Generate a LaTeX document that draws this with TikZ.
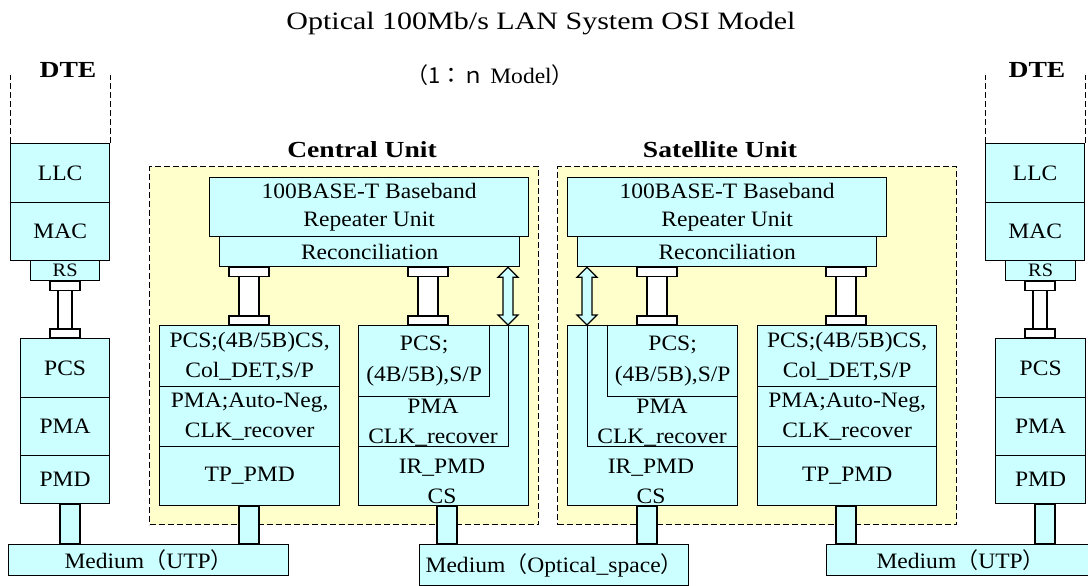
\documentclass[tikz,border=0pt]{standalone}
\usepackage{fontspec}
\setmainfont{Liberation Serif}[FakeStretch=1.07]
\newfontfamily\widefont{Liberation Serif}[FakeStretch=1.2]
\newfontfamily\cjk{Noto Sans CJK JP}
\usetikzlibrary{calc}

\definecolor{layercyan}{HTML}{CCFFFF}
\definecolor{unityellow}{HTML}{FFFFCC}

\begin{document}
\begin{tikzpicture}[
  x=1pt, y=-1pt,
  layer/.style={draw, fill=layercyan, line width=1.3pt, inner sep=0pt, align=center, anchor=north west, font=\fontsize{22}{28}\selectfont},
  unit/.style={draw, fill=unityellow, line width=1pt, dash pattern=on 6pt off 3pt, inner sep=0pt, anchor=north west},
  pillar/.style={draw, fill=white, line width=1.3pt},
  feed/.style={draw, fill=layercyan, line width=1.3pt},
  heading/.style={font=\widefont\bfseries\fontsize{23}{26}\selectfont},
  txt/.style={align=center, inner sep=0pt, font=\fontsize{22}{30}\selectfont},
  rim/.style={line width=1pt, dash pattern=on 6pt off 3pt},
  font=\fontsize{22}{28}\selectfont
]
\useasboundingbox (0,0) rectangle (1088,586);

% Titles
\node (title) at (541,24) {\widefont\fontsize{25}{28}\selectfont Optical 100Mb/s LAN System OSI Model};
\node (model) at (490,75) {{\cjk （1：ｎ} Model{\cjk ）}};

% Units
\node[unit, minimum width=389, minimum height=358] (cu) at (149,166) {};
\node[unit, minimum width=399, minimum height=358] (su) at (557,166) {};
\node[heading] (cuName) at (362,150) {Central Unit};
\node[heading] (suName) at (720,150) {Satellite Unit};

% Left DTE
\node[heading] (dteL) at (68,70) {DTE};
\node[layer, minimum width=99, minimum height=59] (llcL) at (10,143) {LLC};
\node[layer, minimum width=99, minimum height=58] (macL) at (10,202) {MAC};
\node[layer, minimum width=69, minimum height=20, font=\fontsize{19}{19}\selectfont] (rsL) at (30,260) {RS};
\node[layer, minimum width=89, minimum height=59] (pcsL) at (20,338) {PCS};
\node[layer, minimum width=89, minimum height=58] (pmaL) at (20,397) {PMA};
\node[layer, minimum width=89, minimum height=48] (pmdL) at (20,455) {PMD};
\draw[rim] (llcL.north west) -- ++(0,-68);
\draw[rim] (llcL.north east) -- ++(0,-68);

% Central unit
\node[layer, minimum width=319, minimum height=59] (repC) at (209,177) {100BASE-T Baseband\\Repeater Unit};
\node[layer, minimum width=300, minimum height=30] (recC) at (219,236) {Reconciliation};
\node[layer, minimum width=180, minimum height=61, font=\fontsize{22}{30}\selectfont] (pcsCl) at (159,325) {PCS;(4B/5B)CS,\\Col\_DET,S/P};
\node[layer, minimum width=180, minimum height=60, font=\fontsize{22}{30}\selectfont] (pmaCl) at (159,386) {PMA;Auto-Neg,\\CLK\_recover};
\node[layer, minimum width=180, minimum height=59] (tpC) at (159,446) {TP\_PMD};
\node[layer, minimum width=170, minimum height=180] (irC) at (358,325) {};
\node[layer, minimum width=150, minimum height=121] (pmaCr) at (358,325) {};
\node[layer, minimum width=131, minimum height=71, font=\fontsize{22}{31}\selectfont] (pcsCr) at (358,325) {PCS;\\(4B/5B),S/P};
\node[txt] (pmaCrTxt) at (433,423) {PMA\\CLK\_recover};
\node[txt] (irCTxt) at (442,481) {IR\_PMD\\CS};

% Satellite unit
\node[layer, minimum width=319, minimum height=59] (repS) at (567,177) {100BASE-T Baseband\\Repeater Unit};
\node[layer, minimum width=299, minimum height=30] (recS) at (577,236) {Reconciliation};
\node[layer, minimum width=170, minimum height=180] (irS) at (567,325) {};
\node[layer, minimum width=150, minimum height=121] (pmaSl) at (587,325) {};
\node[layer, minimum width=130, minimum height=71, font=\fontsize{22}{31}\selectfont] (pcsSl) at (607,325) {PCS;\\(4B/5B),S/P};
\node[txt] (pmaSlTxt) at (662,423) {PMA\\CLK\_recover};
\node[txt] (irSTxt) at (651,481) {IR\_PMD\\CS};
\node[layer, minimum width=179, minimum height=61, font=\fontsize{22}{30}\selectfont] (pcsSr) at (757,325) {PCS;(4B/5B)CS,\\Col\_DET,S/P};
\node[layer, minimum width=179, minimum height=60, font=\fontsize{22}{30}\selectfont] (pmaSr) at (757,386) {PMA;Auto-Neg,\\CLK\_recover};
\node[layer, minimum width=179, minimum height=59] (tpS) at (757,446) {TP\_PMD};

% Right DTE
\node[heading] (dteR) at (1037,70) {DTE};
\node[layer, minimum width=99, minimum height=59] (llcR) at (985,143) {LLC};
\node[layer, minimum width=99, minimum height=58] (macR) at (985,202) {MAC};
\node[layer, minimum width=70, minimum height=20, font=\fontsize{19}{19}\selectfont] (rsR) at (1005,260) {RS};
\node[layer, minimum width=90, minimum height=59] (pcsR) at (995,338) {PCS};
\node[layer, minimum width=90, minimum height=58] (pmaR) at (995,397) {PMA};
\node[layer, minimum width=90, minimum height=48] (pmdR) at (995,455) {PMD};
\draw[rim] (llcR.north west) -- ++(0,-68);
\draw[rim] (llcR.north east) -- ++(0,-68);

% Media
\node[layer, minimum width=280, minimum height=31] (medL) at (8,544) {Medium{\cjk （}UTP{\cjk ）}};
\node[layer, minimum width=269, minimum height=41] (medO) at (419,544) {Medium{\cjk （}Optical\_space{\cjk ）}};
\node[layer, minimum width=268, minimum height=31] (medR) at (826,544) {Medium{\cjk （}UTP{\cjk ）}};

% Links between sublayers (white)
\foreach \up/\dn/\px/\cw/\sw in {rsL/pcsL/65/30/14, recC/pcsCl/249/40/20, recC/pcsCr/428/40/20,
    recS/pcsSl/657/40/20, recS/pcsSr/846/40/20, rsR/pcsR/1040/30/14}{
  \draw[pillar] ($(\px-\sw/2,0 |- \up.south)+(0,9)$) rectangle ($(\px+\sw/2,0 |- \dn.north)+(0,-9)$);
  \draw[pillar] (\px-\cw/2,0 |- \up.south) rectangle ++(\cw,9);
  \draw[pillar] (\px-\cw/2,0 |- \dn.north) rectangle ++(\cw,-9);
}

% Links to media (cyan)
\foreach \up/\dn/\px in {pmdL/medL/70, tpC/medL/249, irC/medO/447, irS/medO/647, tpS/medR/846, pmdR/medR/1045}{
  \draw[feed] (\px-10,0 |- \up.south) rectangle (\px+10,0 |- \dn.north);
}

% Bypass arrows
\foreach \up/\dn/\px in {recC/irC/508, recS/irS/587}{
  \coordinate (top) at (\px,0 |- \up.south);
  \coordinate (bot) at (\px,0 |- \dn.north);
  \draw[feed] (top) -- ++(10,10) -- ++(-5,0) -- ($(bot)+(5,-10)$) -- ++(5,0) -- (bot)
    -- ++(-10,-10) -- ++(5,0) -- ($(top)+(-5,10)$) -- ++(-5,0) -- cycle;
}

\end{tikzpicture}
\end{document}
